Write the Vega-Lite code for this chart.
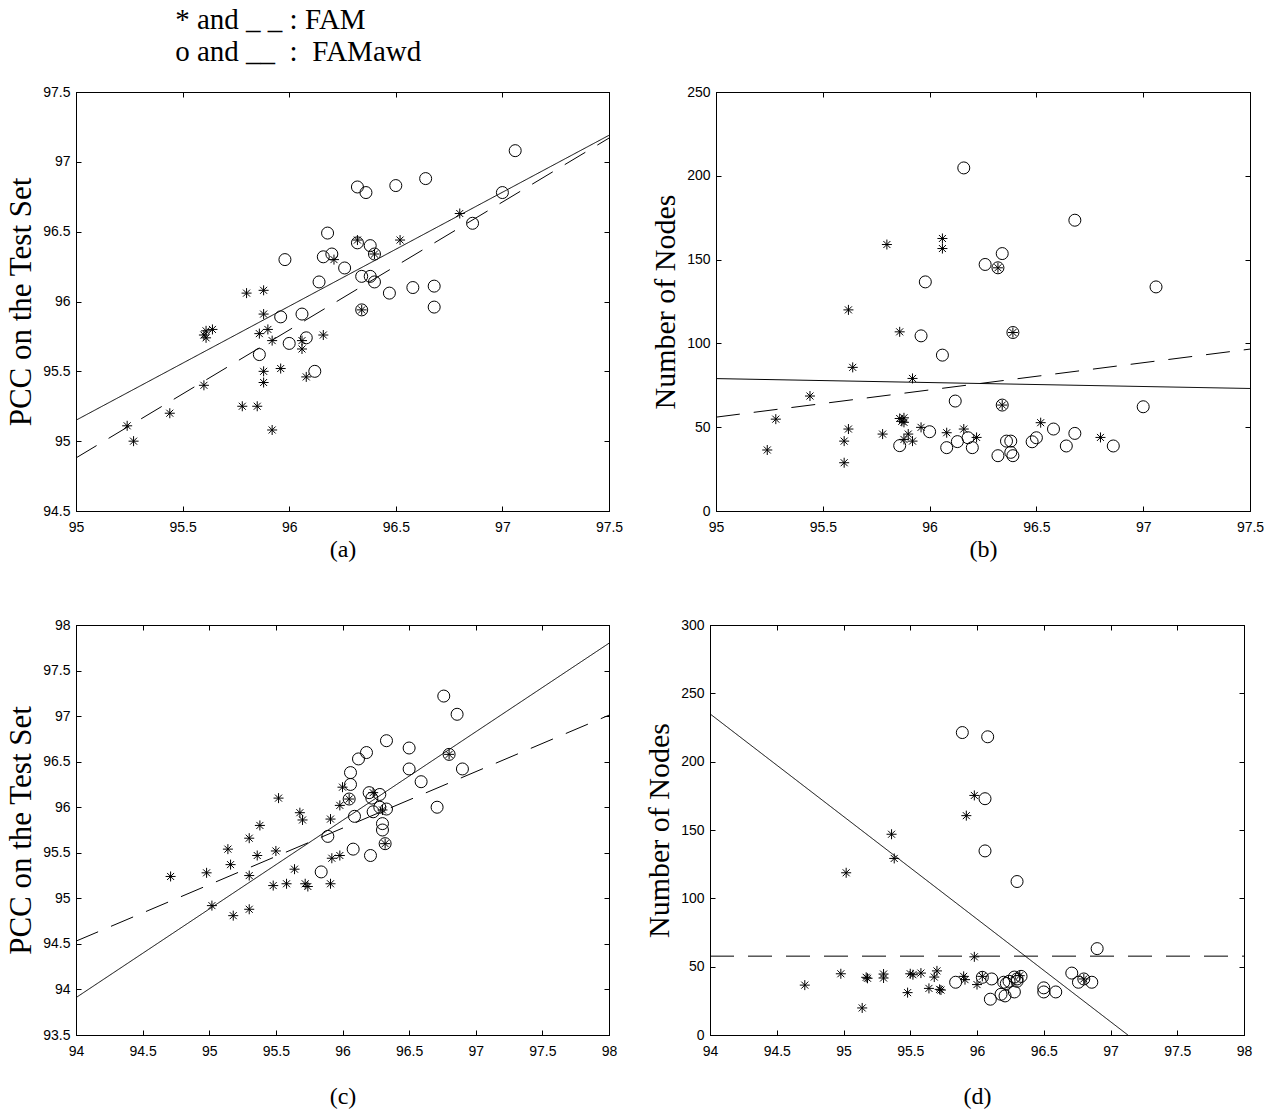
{
  "$schema": "https://vega.github.io/schema/vega-lite/v6.json",
  "background": "white",
  "padding": {"left": 5, "top": 5, "right": 5, "bottom": 2},
  "title": {
    "text": ["* and _ _ : FAM", "o and __\u00a0\u00a0:\u00a0\u00a0FAMawd"],
    "anchor": "start",
    "dx": 170,
    "font": "Liberation Serif",
    "fontSize": 29,
    "fontWeight": "normal",
    "color": "black",
    "lineHeight": 32,
    "offset": 18
  },
  "config": {
    "view": {"stroke": "black", "strokeWidth": 1},
    "axis": {
      "grid": false,
      "domain": true,
      "domainColor": "black",
      "tickColor": "black",
      "tickSize": -5,
      "tickWidth": 1,
      "labelFont": "Liberation Sans",
      "labelFontSize": 14,
      "labelColor": "black",
      "labelFlush": false,
      "labelOverlap": false,
      "titleFont": "Liberation Serif",
      "titleFontWeight": "normal",
      "titleColor": "black"
    },
    "legend": {"disable": true}
  },
  "datasets": {
    "aP": [
      {"x": 95.24, "y": 95.11, "m": "FAM"}, {"x": 95.27, "y": 95.0, "m": "FAM"}, {"x": 95.44, "y": 95.2, "m": "FAM"},
      {"x": 95.6, "y": 95.4, "m": "FAM"}, {"x": 95.6, "y": 95.76, "m": "FAM"}, {"x": 95.61, "y": 95.79, "m": "FAM"},
      {"x": 95.64, "y": 95.8, "m": "FAM"}, {"x": 95.61, "y": 95.74, "m": "FAM"}, {"x": 95.78, "y": 95.25, "m": "FAM"},
      {"x": 95.8, "y": 96.06, "m": "FAM"}, {"x": 95.85, "y": 95.25, "m": "FAM"}, {"x": 95.86, "y": 95.77, "m": "FAM"},
      {"x": 95.88, "y": 96.08, "m": "FAM"}, {"x": 95.88, "y": 95.91, "m": "FAM"}, {"x": 95.9, "y": 95.8, "m": "FAM"},
      {"x": 95.88, "y": 95.5, "m": "FAM"}, {"x": 95.88, "y": 95.42, "m": "FAM"}, {"x": 95.92, "y": 95.72, "m": "FAM"},
      {"x": 95.92, "y": 95.08, "m": "FAM"}, {"x": 95.96, "y": 95.52, "m": "FAM"}, {"x": 96.06, "y": 95.72, "m": "FAM"},
      {"x": 96.06, "y": 95.66, "m": "FAM"}, {"x": 96.08, "y": 95.46, "m": "FAM"}, {"x": 96.16, "y": 95.76, "m": "FAM"},
      {"x": 96.21, "y": 96.3, "m": "FAM"}, {"x": 96.32, "y": 96.44, "m": "FAM"}, {"x": 96.52, "y": 96.44, "m": "FAM"},
      {"x": 96.8, "y": 96.63, "m": "FAM"}, {"x": 96.4, "y": 96.34, "m": "FAM"}, {"x": 96.34, "y": 95.94, "m": "FAM"},
      {"x": 97.06, "y": 97.08, "m": "FAMawd"}, {"x": 97.0, "y": 96.78, "m": "FAMawd"}, {"x": 96.64, "y": 96.88, "m": "FAMawd"},
      {"x": 96.5, "y": 96.83, "m": "FAMawd"}, {"x": 96.32, "y": 96.82, "m": "FAMawd"}, {"x": 96.36, "y": 96.78, "m": "FAMawd"},
      {"x": 96.18, "y": 96.49, "m": "FAMawd"}, {"x": 96.86, "y": 96.56, "m": "FAMawd"}, {"x": 96.32, "y": 96.42, "m": "FAMawd"},
      {"x": 96.38, "y": 96.4, "m": "FAMawd"}, {"x": 96.4, "y": 96.34, "m": "FAMawd"}, {"x": 96.2, "y": 96.34, "m": "FAMawd"},
      {"x": 96.16, "y": 96.32, "m": "FAMawd"}, {"x": 95.98, "y": 96.3, "m": "FAMawd"}, {"x": 96.26, "y": 96.24, "m": "FAMawd"},
      {"x": 96.34, "y": 96.18, "m": "FAMawd"}, {"x": 96.38, "y": 96.18, "m": "FAMawd"}, {"x": 96.4, "y": 96.14, "m": "FAMawd"},
      {"x": 96.14, "y": 96.14, "m": "FAMawd"}, {"x": 96.47, "y": 96.06, "m": "FAMawd"}, {"x": 96.58, "y": 96.1, "m": "FAMawd"},
      {"x": 96.68, "y": 96.11, "m": "FAMawd"}, {"x": 96.68, "y": 95.96, "m": "FAMawd"}, {"x": 96.34, "y": 95.94, "m": "FAMawd"},
      {"x": 95.96, "y": 95.89, "m": "FAMawd"}, {"x": 96.06, "y": 95.91, "m": "FAMawd"}, {"x": 96.08, "y": 95.74, "m": "FAMawd"},
      {"x": 96.0, "y": 95.7, "m": "FAMawd"}, {"x": 95.86, "y": 95.62, "m": "FAMawd"}, {"x": 96.12, "y": 95.5, "m": "FAMawd"}
    ],
    "aL": [
      {"x": 95, "y": 94.88, "m": "FAM"}, {"x": 97.5, "y": 97.17, "m": "FAM"},
      {"x": 95, "y": 95.15, "m": "FAMawd"}, {"x": 97.5, "y": 97.19, "m": "FAMawd"}
    ],
    "bP": [
      {"x": 95.24, "y": 36.4, "m": "FAM"}, {"x": 95.28, "y": 54.8, "m": "FAM"}, {"x": 95.44, "y": 68.6, "m": "FAM"},
      {"x": 95.6, "y": 28.8, "m": "FAM"}, {"x": 95.6, "y": 41.7, "m": "FAM"}, {"x": 95.62, "y": 48.9, "m": "FAM"},
      {"x": 95.62, "y": 120.0, "m": "FAM"}, {"x": 95.64, "y": 85.7, "m": "FAM"}, {"x": 95.78, "y": 45.9, "m": "FAM"},
      {"x": 95.8, "y": 159.0, "m": "FAM"}, {"x": 95.86, "y": 106.9, "m": "FAM"}, {"x": 95.86, "y": 55.2, "m": "FAM"},
      {"x": 95.88, "y": 55.6, "m": "FAM"}, {"x": 95.88, "y": 52.9, "m": "FAM"}, {"x": 95.88, "y": 42.7, "m": "FAM"},
      {"x": 95.87, "y": 53.5, "m": "FAM"}, {"x": 95.9, "y": 45.9, "m": "FAM"}, {"x": 95.92, "y": 79.1, "m": "FAM"},
      {"x": 95.92, "y": 41.7, "m": "FAM"}, {"x": 95.96, "y": 49.9, "m": "FAM"}, {"x": 96.06, "y": 162.6, "m": "FAM"},
      {"x": 96.06, "y": 156.6, "m": "FAM"}, {"x": 96.08, "y": 46.7, "m": "FAM"}, {"x": 96.16, "y": 48.9, "m": "FAM"},
      {"x": 96.22, "y": 43.9, "m": "FAM"}, {"x": 96.32, "y": 145.1, "m": "FAM"}, {"x": 96.39, "y": 106.5, "m": "FAM"},
      {"x": 96.34, "y": 63.2, "m": "FAM"}, {"x": 96.52, "y": 52.7, "m": "FAM"}, {"x": 96.8, "y": 43.9, "m": "FAM"},
      {"x": 96.16, "y": 204.7, "m": "FAMawd"}, {"x": 96.68, "y": 173.5, "m": "FAMawd"}, {"x": 96.34, "y": 153.6, "m": "FAMawd"},
      {"x": 96.26, "y": 147.1, "m": "FAMawd"}, {"x": 96.32, "y": 145.1, "m": "FAMawd"}, {"x": 95.98, "y": 136.7, "m": "FAMawd"},
      {"x": 97.06, "y": 133.7, "m": "FAMawd"}, {"x": 96.39, "y": 106.5, "m": "FAMawd"}, {"x": 95.96, "y": 104.5, "m": "FAMawd"},
      {"x": 96.06, "y": 93.0, "m": "FAMawd"}, {"x": 96.12, "y": 65.6, "m": "FAMawd"}, {"x": 96.34, "y": 63.2, "m": "FAMawd"},
      {"x": 97.0, "y": 62.2, "m": "FAMawd"}, {"x": 96.0, "y": 47.3, "m": "FAMawd"}, {"x": 95.86, "y": 39.0, "m": "FAMawd"},
      {"x": 96.08, "y": 37.8, "m": "FAMawd"}, {"x": 96.13, "y": 41.4, "m": "FAMawd"}, {"x": 96.18, "y": 43.7, "m": "FAMawd"},
      {"x": 96.2, "y": 37.8, "m": "FAMawd"}, {"x": 96.32, "y": 33.0, "m": "FAMawd"}, {"x": 96.36, "y": 41.7, "m": "FAMawd"},
      {"x": 96.38, "y": 41.7, "m": "FAMawd"}, {"x": 96.38, "y": 35.0, "m": "FAMawd"}, {"x": 96.39, "y": 33.0, "m": "FAMawd"},
      {"x": 96.48, "y": 41.3, "m": "FAMawd"}, {"x": 96.5, "y": 43.7, "m": "FAMawd"}, {"x": 96.58, "y": 48.9, "m": "FAMawd"},
      {"x": 96.64, "y": 38.8, "m": "FAMawd"}, {"x": 96.68, "y": 46.3, "m": "FAMawd"}, {"x": 96.86, "y": 38.8, "m": "FAMawd"}
    ],
    "bL": [
      {"x": 95, "y": 56.0, "m": "FAM"}, {"x": 97.5, "y": 96.6, "m": "FAM"},
      {"x": 95, "y": 79.0, "m": "FAMawd"}, {"x": 97.5, "y": 73.1, "m": "FAMawd"}
    ],
    "cP": [
      {"x": 94.71, "y": 95.24, "m": "FAM"}, {"x": 94.98, "y": 95.28, "m": "FAM"}, {"x": 95.02, "y": 94.92, "m": "FAM"},
      {"x": 95.14, "y": 95.54, "m": "FAM"}, {"x": 95.16, "y": 95.37, "m": "FAM"}, {"x": 95.18, "y": 94.81, "m": "FAM"},
      {"x": 95.3, "y": 95.66, "m": "FAM"}, {"x": 95.3, "y": 95.25, "m": "FAM"}, {"x": 95.3, "y": 94.88, "m": "FAM"},
      {"x": 95.36, "y": 95.47, "m": "FAM"}, {"x": 95.38, "y": 95.8, "m": "FAM"}, {"x": 95.5, "y": 95.52, "m": "FAM"},
      {"x": 95.48, "y": 95.14, "m": "FAM"}, {"x": 95.52, "y": 96.1, "m": "FAM"}, {"x": 95.58, "y": 95.16, "m": "FAM"},
      {"x": 95.64, "y": 95.32, "m": "FAM"}, {"x": 95.68, "y": 95.94, "m": "FAM"}, {"x": 95.7, "y": 95.86, "m": "FAM"},
      {"x": 95.72, "y": 95.16, "m": "FAM"}, {"x": 95.74, "y": 95.13, "m": "FAM"}, {"x": 95.91, "y": 95.87, "m": "FAM"},
      {"x": 95.91, "y": 95.16, "m": "FAM"}, {"x": 95.92, "y": 95.44, "m": "FAM"}, {"x": 95.98, "y": 95.47, "m": "FAM"},
      {"x": 95.98, "y": 96.02, "m": "FAM"}, {"x": 96.0, "y": 96.22, "m": "FAM"}, {"x": 96.05, "y": 96.09, "m": "FAM"},
      {"x": 96.23, "y": 96.16, "m": "FAM"}, {"x": 96.3, "y": 95.97, "m": "FAM"}, {"x": 96.32, "y": 95.6, "m": "FAM"},
      {"x": 96.8, "y": 96.58, "m": "FAM"},
      {"x": 96.76, "y": 97.22, "m": "FAMawd"}, {"x": 96.86, "y": 97.02, "m": "FAMawd"}, {"x": 96.33, "y": 96.73, "m": "FAMawd"},
      {"x": 96.5, "y": 96.65, "m": "FAMawd"}, {"x": 96.18, "y": 96.6, "m": "FAMawd"}, {"x": 96.12, "y": 96.53, "m": "FAMawd"},
      {"x": 96.06, "y": 96.38, "m": "FAMawd"}, {"x": 96.06, "y": 96.25, "m": "FAMawd"}, {"x": 96.5, "y": 96.42, "m": "FAMawd"},
      {"x": 96.9, "y": 96.42, "m": "FAMawd"}, {"x": 96.59, "y": 96.28, "m": "FAMawd"}, {"x": 96.8, "y": 96.58, "m": "FAMawd"},
      {"x": 96.05, "y": 96.09, "m": "FAMawd"}, {"x": 96.2, "y": 96.16, "m": "FAMawd"}, {"x": 96.22, "y": 96.1, "m": "FAMawd"},
      {"x": 96.28, "y": 96.14, "m": "FAMawd"}, {"x": 96.28, "y": 96.0, "m": "FAMawd"}, {"x": 96.33, "y": 95.98, "m": "FAMawd"},
      {"x": 96.23, "y": 95.95, "m": "FAMawd"}, {"x": 96.71, "y": 96.0, "m": "FAMawd"}, {"x": 96.09, "y": 95.9, "m": "FAMawd"},
      {"x": 96.3, "y": 95.82, "m": "FAMawd"}, {"x": 96.3, "y": 95.75, "m": "FAMawd"}, {"x": 96.32, "y": 95.6, "m": "FAMawd"},
      {"x": 95.89, "y": 95.68, "m": "FAMawd"}, {"x": 96.08, "y": 95.54, "m": "FAMawd"}, {"x": 96.21, "y": 95.47, "m": "FAMawd"},
      {"x": 95.84, "y": 95.29, "m": "FAMawd"}
    ],
    "cL": [
      {"x": 94, "y": 94.53, "m": "FAM"}, {"x": 98, "y": 97.01, "m": "FAM"},
      {"x": 94, "y": 93.91, "m": "FAMawd"}, {"x": 98, "y": 97.8, "m": "FAMawd"}
    ],
    "dP": [
      {"x": 94.71, "y": 36.5, "m": "FAM"}, {"x": 95.02, "y": 118.7, "m": "FAM"}, {"x": 94.98, "y": 44.8, "m": "FAM"},
      {"x": 95.14, "y": 19.8, "m": "FAM"}, {"x": 95.17, "y": 42.2, "m": "FAM"}, {"x": 95.18, "y": 41.5, "m": "FAM"},
      {"x": 95.3, "y": 44.6, "m": "FAM"}, {"x": 95.3, "y": 41.7, "m": "FAM"}, {"x": 95.36, "y": 146.9, "m": "FAM"},
      {"x": 95.38, "y": 129.2, "m": "FAM"}, {"x": 95.48, "y": 31.0, "m": "FAM"}, {"x": 95.5, "y": 44.8, "m": "FAM"},
      {"x": 95.52, "y": 44.1, "m": "FAM"}, {"x": 95.58, "y": 45.3, "m": "FAM"}, {"x": 95.64, "y": 34.1, "m": "FAM"},
      {"x": 95.68, "y": 42.4, "m": "FAM"}, {"x": 95.7, "y": 46.9, "m": "FAM"}, {"x": 95.72, "y": 33.4, "m": "FAM"},
      {"x": 95.73, "y": 32.9, "m": "FAM"}, {"x": 95.9, "y": 42.9, "m": "FAM"}, {"x": 95.91, "y": 40.5, "m": "FAM"},
      {"x": 95.92, "y": 160.5, "m": "FAM"}, {"x": 95.98, "y": 175.3, "m": "FAM"}, {"x": 95.98, "y": 57.2, "m": "FAM"},
      {"x": 96.0, "y": 36.9, "m": "FAM"}, {"x": 96.04, "y": 42.9, "m": "FAM"}, {"x": 96.32, "y": 43.4, "m": "FAM"},
      {"x": 96.8, "y": 41.0, "m": "FAM"},
      {"x": 95.89, "y": 221.3, "m": "FAMawd"}, {"x": 96.08, "y": 218.2, "m": "FAMawd"}, {"x": 96.06, "y": 172.9, "m": "FAMawd"},
      {"x": 96.06, "y": 134.7, "m": "FAMawd"}, {"x": 96.3, "y": 112.3, "m": "FAMawd"}, {"x": 96.9, "y": 63.2, "m": "FAMawd"},
      {"x": 95.84, "y": 38.6, "m": "FAMawd"}, {"x": 96.04, "y": 42.2, "m": "FAMawd"}, {"x": 96.11, "y": 41.0, "m": "FAMawd"},
      {"x": 96.1, "y": 26.2, "m": "FAMawd"}, {"x": 96.18, "y": 29.8, "m": "FAMawd"}, {"x": 96.21, "y": 28.6, "m": "FAMawd"},
      {"x": 96.2, "y": 38.6, "m": "FAMawd"}, {"x": 96.22, "y": 37.7, "m": "FAMawd"}, {"x": 96.24, "y": 39.3, "m": "FAMawd"},
      {"x": 96.28, "y": 42.4, "m": "FAMawd"}, {"x": 96.3, "y": 41.0, "m": "FAMawd"}, {"x": 96.33, "y": 42.9, "m": "FAMawd"},
      {"x": 96.28, "y": 31.5, "m": "FAMawd"}, {"x": 96.3, "y": 39.3, "m": "FAMawd"}, {"x": 96.5, "y": 34.5, "m": "FAMawd"},
      {"x": 96.5, "y": 31.5, "m": "FAMawd"}, {"x": 96.59, "y": 31.5, "m": "FAMawd"}, {"x": 96.71, "y": 45.3, "m": "FAMawd"},
      {"x": 96.76, "y": 38.6, "m": "FAMawd"}, {"x": 96.8, "y": 41.0, "m": "FAMawd"}, {"x": 96.86, "y": 38.6, "m": "FAMawd"}
    ],
    "dL": [
      {"x": 94, "y": 57.7, "m": "FAM"}, {"x": 98, "y": 57.7, "m": "FAM"},
      {"x": 94, "y": 235.0, "m": "FAMawd"}, {"x": 97.13, "y": 0.0, "m": "FAMawd"}
    ]
  },
  "vconcat": [
    {
      "hconcat": [
        {
          "width": 533, "height": 419,
          "resolve": {"axis": {"x": "independent", "y": "independent"}},
          "layer": [
            {
              "data": {"name": "aP"},
              "mark": {"type": "point", "filled": false, "color": "black", "strokeWidth": 1, "opacity": 1},
              "encoding": {
                "x": {"field": "x", "type": "quantitative", "scale": {"domain": [95, 97.5], "nice": false, "zero": false},
                      "axis": {"orient": "bottom", "values": [95, 95.5, 96, 96.5, 97, 97.5], "format": "~g", "labelPadding": 14, "title": "(a)", "titleFontSize": 24, "titlePadding": 3}},
                "y": {"field": "y", "type": "quantitative", "scale": {"domain": [94.5, 97.5], "nice": false, "zero": false},
                      "axis": {"orient": "left", "values": [94.5, 95, 95.5, 96, 96.5, 97, 97.5], "format": "~g", "labelPadding": 11, "title": "PCC on the Test Set", "titleFontSize": 31, "titlePadding": 5}},
                "shape": {"field": "m", "type": "nominal", "scale": {"domain": ["FAM", "FAMawd"], "range": ["M-1,0L1,0M0,-1L0,1M-0.7,-0.7L0.7,0.7M-0.7,0.7L0.7,-0.7", "circle"]}},
                "size": {"field": "m", "type": "nominal", "scale": {"domain": ["FAM", "FAMawd"], "range": [100, 144]}}
              }
            },
            {
              "data": {"name": "aL"},
              "mark": {"type": "line", "color": "black", "strokeWidth": 1, "clip": true},
              "encoding": {
                "x": {"field": "x", "type": "quantitative", "axis": {"orient": "top", "values": [95, 95.5, 96, 96.5, 97, 97.5], "labels": false, "title": null}},
                "y": {"field": "y", "type": "quantitative", "axis": {"orient": "right", "values": [94.5, 95, 95.5, 96, 96.5, 97, 97.5], "labels": false, "title": null}},
                "detail": {"field": "m"},
                "strokeDash": {"field": "m", "type": "nominal", "scale": {"domain": ["FAM", "FAMawd"], "range": [[24, 14], [1, 0]]}}
              }
            }
          ]
        },
        {
          "width": 534, "height": 419,
          "resolve": {"axis": {"x": "independent", "y": "independent"}},
          "layer": [
            {
              "data": {"name": "bP"},
              "mark": {"type": "point", "filled": false, "color": "black", "strokeWidth": 1, "opacity": 1},
              "encoding": {
                "x": {"field": "x", "type": "quantitative", "scale": {"domain": [95, 97.5], "nice": false, "zero": false},
                      "axis": {"orient": "bottom", "values": [95, 95.5, 96, 96.5, 97, 97.5], "format": "~g", "labelPadding": 14, "title": "(b)", "titleFontSize": 24, "titlePadding": 3}},
                "y": {"field": "y", "type": "quantitative", "scale": {"domain": [0, 250], "nice": false},
                      "axis": {"orient": "left", "values": [0, 50, 100, 150, 200, 250], "labelPadding": 11, "title": "Number of Nodes", "titleFontSize": 30, "titlePadding": 6}},
                "shape": {"field": "m", "type": "nominal", "scale": {"domain": ["FAM", "FAMawd"], "range": ["M-1,0L1,0M0,-1L0,1M-0.7,-0.7L0.7,0.7M-0.7,0.7L0.7,-0.7", "circle"]}},
                "size": {"field": "m", "type": "nominal", "scale": {"domain": ["FAM", "FAMawd"], "range": [100, 144]}}
              }
            },
            {
              "data": {"name": "bL"},
              "mark": {"type": "line", "color": "black", "strokeWidth": 1, "clip": true},
              "encoding": {
                "x": {"field": "x", "type": "quantitative", "axis": {"orient": "top", "values": [95, 95.5, 96, 96.5, 97, 97.5], "labels": false, "title": null}},
                "y": {"field": "y", "type": "quantitative", "axis": {"orient": "right", "values": [0, 50, 100, 150, 200, 250], "labels": false, "title": null}},
                "detail": {"field": "m"},
                "strokeDash": {"field": "m", "type": "nominal", "scale": {"domain": ["FAM", "FAMawd"], "range": [[24, 14], [1, 0]]}}
              }
            }
          ]
        }
      ],
      "spacing": 26
    },
    {
      "hconcat": [
        {
          "width": 533, "height": 410,
          "resolve": {"axis": {"x": "independent", "y": "independent"}},
          "layer": [
            {
              "data": {"name": "cP"},
              "mark": {"type": "point", "filled": false, "color": "black", "strokeWidth": 1, "opacity": 1},
              "encoding": {
                "x": {"field": "x", "type": "quantitative", "scale": {"domain": [94, 98], "nice": false, "zero": false},
                      "axis": {"orient": "bottom", "values": [94, 94.5, 95, 95.5, 96, 96.5, 97, 97.5, 98], "format": "~g", "labelPadding": 14, "title": "(c)", "titleFontSize": 24, "titlePadding": 26}},
                "y": {"field": "y", "type": "quantitative", "scale": {"domain": [93.5, 98], "nice": false, "zero": false},
                      "axis": {"orient": "left", "values": [93.5, 94, 94.5, 95, 95.5, 96, 96.5, 97, 97.5, 98], "format": "~g", "labelPadding": 11, "title": "PCC on the Test Set", "titleFontSize": 31, "titlePadding": 5}},
                "shape": {"field": "m", "type": "nominal", "scale": {"domain": ["FAM", "FAMawd"], "range": ["M-1,0L1,0M0,-1L0,1M-0.7,-0.7L0.7,0.7M-0.7,0.7L0.7,-0.7", "circle"]}},
                "size": {"field": "m", "type": "nominal", "scale": {"domain": ["FAM", "FAMawd"], "range": [100, 144]}}
              }
            },
            {
              "data": {"name": "cL"},
              "mark": {"type": "line", "color": "black", "strokeWidth": 1, "clip": true},
              "encoding": {
                "x": {"field": "x", "type": "quantitative", "axis": {"orient": "top", "values": [94, 94.5, 95, 95.5, 96, 96.5, 97, 97.5, 98], "labels": false, "title": null}},
                "y": {"field": "y", "type": "quantitative", "axis": {"orient": "right", "values": [93.5, 94, 94.5, 95, 95.5, 96, 96.5, 97, 97.5, 98], "labels": false, "title": null}},
                "detail": {"field": "m"},
                "strokeDash": {"field": "m", "type": "nominal", "scale": {"domain": ["FAM", "FAMawd"], "range": [[24, 14], [1, 0]]}}
              }
            }
          ]
        },
        {
          "width": 534, "height": 410,
          "resolve": {"axis": {"x": "independent", "y": "independent"}},
          "layer": [
            {
              "data": {"name": "dP"},
              "mark": {"type": "point", "filled": false, "color": "black", "strokeWidth": 1, "opacity": 1},
              "encoding": {
                "x": {"field": "x", "type": "quantitative", "scale": {"domain": [94, 98], "nice": false, "zero": false},
                      "axis": {"orient": "bottom", "values": [94, 94.5, 95, 95.5, 96, 96.5, 97, 97.5, 98], "format": "~g", "labelPadding": 14, "title": "(d)", "titleFontSize": 24, "titlePadding": 26}},
                "y": {"field": "y", "type": "quantitative", "scale": {"domain": [0, 300], "nice": false},
                      "axis": {"orient": "left", "values": [0, 50, 100, 150, 200, 250, 300], "labelPadding": 11, "title": "Number of Nodes", "titleFontSize": 30, "titlePadding": 6}},
                "shape": {"field": "m", "type": "nominal", "scale": {"domain": ["FAM", "FAMawd"], "range": ["M-1,0L1,0M0,-1L0,1M-0.7,-0.7L0.7,0.7M-0.7,0.7L0.7,-0.7", "circle"]}},
                "size": {"field": "m", "type": "nominal", "scale": {"domain": ["FAM", "FAMawd"], "range": [100, 144]}}
              }
            },
            {
              "data": {"name": "dL"},
              "mark": {"type": "line", "color": "black", "strokeWidth": 1, "clip": true},
              "encoding": {
                "x": {"field": "x", "type": "quantitative", "axis": {"orient": "top", "values": [94, 94.5, 95, 95.5, 96, 96.5, 97, 97.5, 98], "labels": false, "title": null}},
                "y": {"field": "y", "type": "quantitative", "axis": {"orient": "right", "values": [0, 50, 100, 150, 200, 250, 300], "labels": false, "title": null}},
                "detail": {"field": "m"},
                "strokeDash": {"field": "m", "type": "nominal", "scale": {"domain": ["FAM", "FAMawd"], "range": [[24, 14], [1, 0]]}}
              }
            }
          ]
        }
      ],
      "spacing": 26
    }
  ],
  "spacing": 55
}
